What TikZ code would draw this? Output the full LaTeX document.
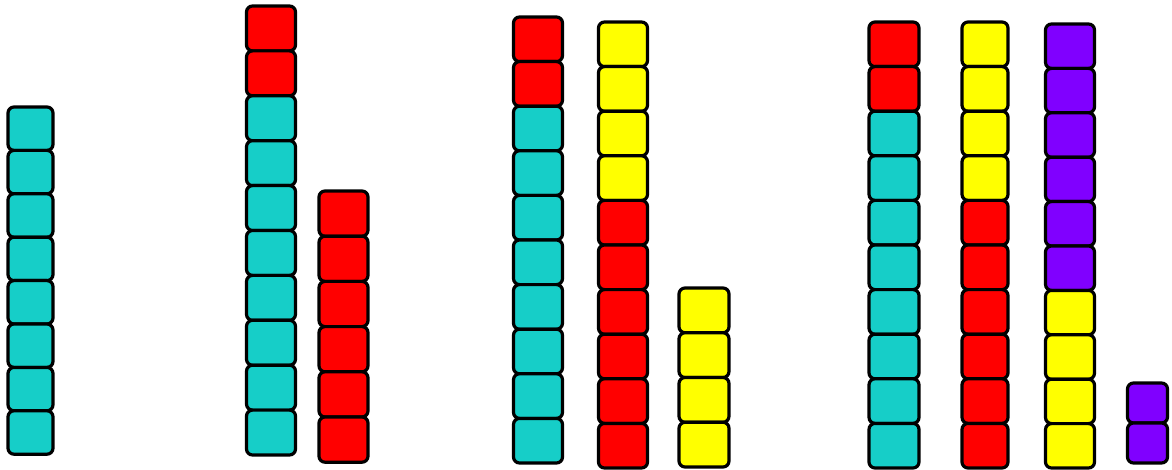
\documentclass[tikz,border=0pt]{standalone}
\definecolor{rodteal}{RGB}{22,206,200}
\definecolor{rodred}{RGB}{255,0,0}
\definecolor{rodyellow}{RGB}{255,255,0}
\definecolor{rodpurple}{RGB}{128,0,255}
\begin{document}
\begin{tikzpicture}[
                x=1pt, y=-1pt,
                cube/.style={draw=black, line width=3.2pt, rounded corners=6pt,
                             inner sep=0pt, outer sep=0pt}
            ]
            \useasboundingbox (0,0) rectangle (1172,470);

            % Stangen: Name / Mitte x / oben y / Breite / Hoehe / Farben von oben
            \foreach \name/\cx/\top/\w/\h/\cols in {
                    c1/30.5/107/45/43.4/{rodteal,rodteal,rodteal,rodteal,rodteal,rodteal,rodteal,rodteal},
                    c2/271/6/49/44.9/{rodred,rodred,rodteal,rodteal,rodteal,rodteal,rodteal,rodteal,rodteal,rodteal},
                    c3/343.5/191/49/45.2/{rodred,rodred,rodred,rodred,rodred,rodred},
                    c4/538/17/49/44.6/{rodred,rodred,rodteal,rodteal,rodteal,rodteal,rodteal,rodteal,rodteal,rodteal},
                    c5/623/22/49/44.6/{rodyellow,rodyellow,rodyellow,rodyellow,rodred,rodred,rodred,rodred,rodred,rodred},
                    c6/704/288/50/44.75/{rodyellow,rodyellow,rodyellow,rodyellow},
                    c7/894/22/50/44.6/{rodred,rodred,rodteal,rodteal,rodteal,rodteal,rodteal,rodteal,rodteal,rodteal},
                    c8/985/22/46/44.6/{rodyellow,rodyellow,rodyellow,rodyellow,rodred,rodred,rodred,rodred,rodred,rodred},
                    c9/1070/24/49/44.4/{rodpurple,rodpurple,rodpurple,rodpurple,rodpurple,rodpurple,rodyellow,rodyellow,rodyellow,rodyellow},
                    c10/1147.5/383/40/40/{rodpurple,rodpurple}} {
                \foreach \c [count=\i] in \cols {
                    \node[cube, fill=\c, minimum width=\w pt, minimum height=\h pt]
                        (\name-\i) at (\cx, {\top+(\i-0.5)*\h}) {};
                }
            }
        \end{tikzpicture}
\end{document}
